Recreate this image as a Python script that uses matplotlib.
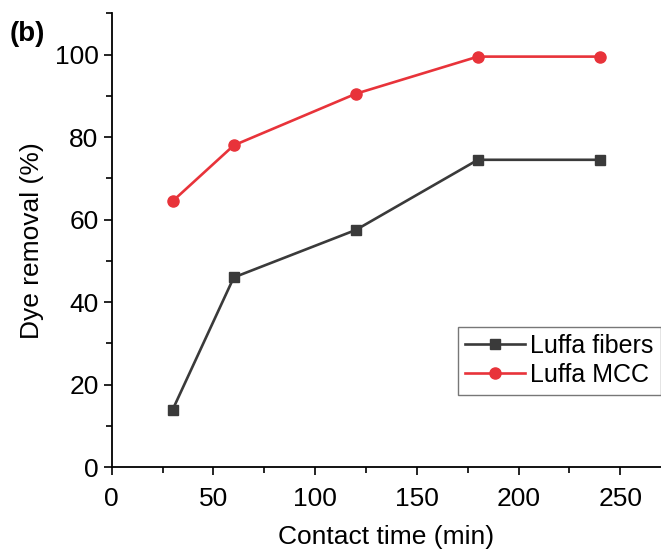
import matplotlib
matplotlib.use("Agg")
import matplotlib.pyplot as plt
from matplotlib.ticker import MultipleLocator

plt.rcParams['font.family'] = ['Liberation Sans', 'DejaVu Sans']

# data
time_min = [30, 60, 120, 180, 240]
luffa_fibers = [14, 46, 57.5, 74.5, 74.5]
luffa_mcc = [64.5, 78, 90.5, 99.5, 99.5]

fig = plt.figure(figsize=(6.61, 5.53), dpi=100)
ax = fig.add_axes([0.169, 0.155, 0.831, 0.821])

ax.plot(time_min, luffa_fibers, color='#3a3a3a', marker='s', markersize=7.5,
        linewidth=1.9, label='Luffa fibers')
ax.plot(time_min, luffa_mcc, color='#e8333a', marker='o', markersize=8,
        linewidth=1.9, label='Luffa MCC')

ax.set_xlim(0, 270)
ax.set_ylim(0, 110)
ax.xaxis.set_major_locator(MultipleLocator(50))
ax.xaxis.set_minor_locator(MultipleLocator(25))
ax.yaxis.set_major_locator(MultipleLocator(20))
ax.yaxis.set_minor_locator(MultipleLocator(10))

ax.spines['top'].set_visible(False)
ax.spines['right'].set_visible(False)
ax.spines['left'].set_linewidth(1.3)
ax.spines['bottom'].set_linewidth(1.3)
ax.tick_params(which='major', length=6, width=1.2, labelsize=19)
ax.tick_params(axis='x', which='major', pad=8)
ax.tick_params(which='minor', length=4, width=1.2)

ax.set_xlabel('Contact time (min)', fontsize=19, labelpad=10)
ax.set_ylabel('Dye removal (%)', fontsize=19, labelpad=8)

leg = ax.legend(loc='lower right', bbox_to_anchor=(1.0, 0.16), fontsize=18,
                frameon=True, fancybox=False, edgecolor='#555555',
                handlelength=2.4, handletextpad=0.2, borderpad=0.3,
                labelspacing=0.2, borderaxespad=0.0)
leg.get_frame().set_linewidth(1.0)

fig.text(0.015, 0.925, '(b)', fontsize=20, fontweight='bold')

fig.savefig('out.png', dpi=100)
